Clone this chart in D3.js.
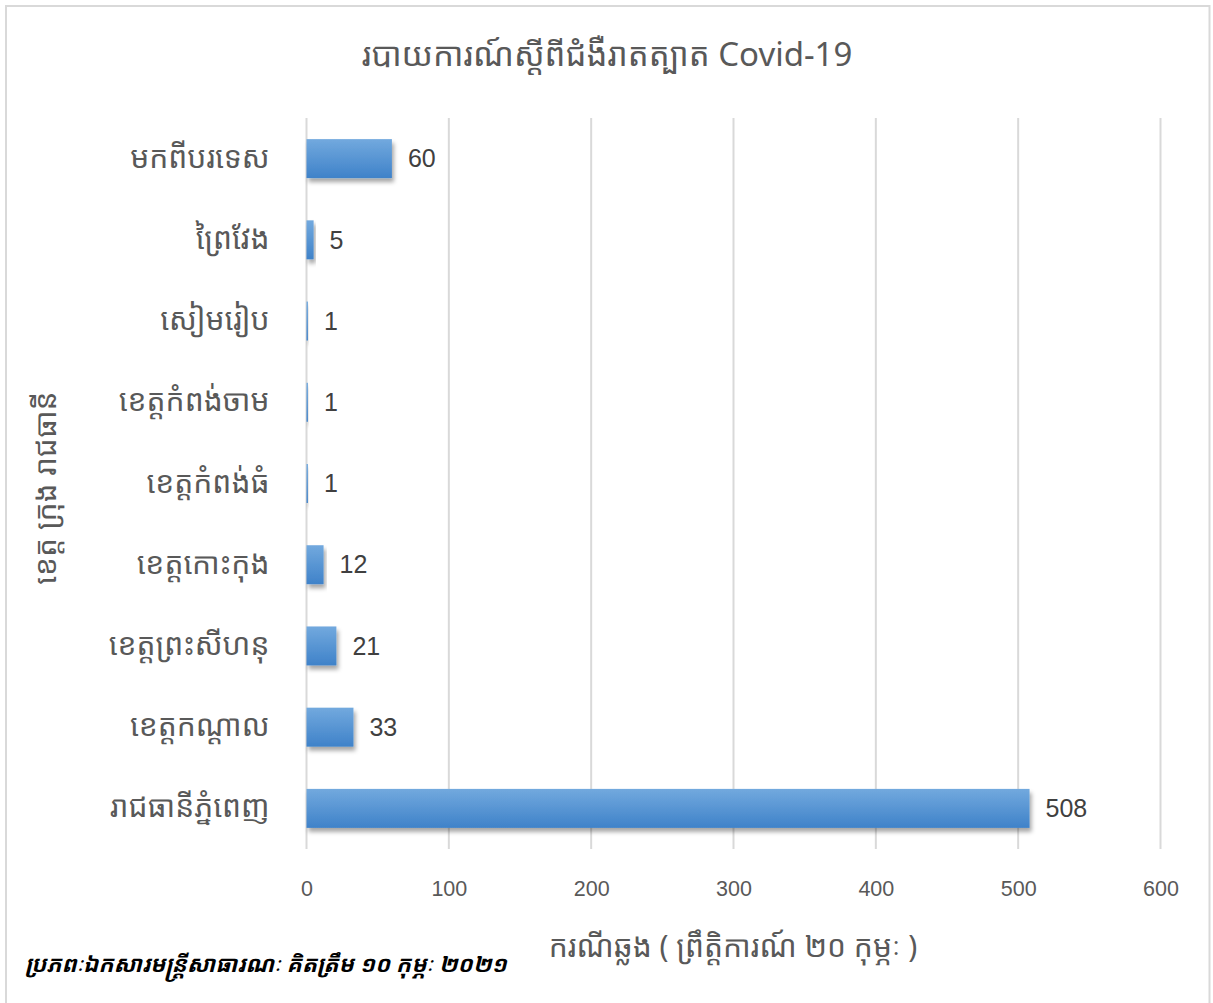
<!DOCTYPE html>
<html>
<head>
<meta charset="utf-8">
<script src="https://cdn.jsdelivr.net/npm/d3@7"></script>
<style>
  html, body { margin: 0; padding: 0; background: #fff; }
  svg { display: block; }
  text { font-family: "Khmer OS", "Noto Sans Khmer", "Noto Sans", "DejaVu Sans", sans-serif; }
</style>
</head>
<body>
<svg id="chart" width="1213" height="1003"></svg>
<script>
const categories = ["មកពីបរទេស", "ព្រៃវែង", "សៀមរៀប", "ខេត្តកំពង់ចាម", "ខេត្តកំពង់ធំ", "ខេត្តកោះកុង", "ខេត្តព្រះសីហនុ", "ខេត្តកណ្ដាល", "រាជធានីភ្នំពេញ"];
const values = [60, 5, 1, 1, 1, 12, 21, 33, 508];
const xTicks = [0, 100, 200, 300, 400, 500, 600];
const titleText = "របាយការណ៍ស្ដីពីជំងឺរាតត្បាត  Covid-19";
const yTitle = "ខេត្ត ក្រុង រាជធានី";
const xTitle = "ករណីឆ្លង ( ព្រឹត្តិការណ៍ ២០ កុម្ភៈ )";
const sourceNote = "ប្រភពៈឯកសារមន្ត្រីសាធារណៈ គិតត្រឹម ១០ កុម្ភៈ ២០២១";

const svg = d3.select("#chart");
const W = 1213, H = 1003;
const plot = {left: 306.5, right: 1160.5, top: 118, bottom: 849};

// chart border
svg.append("rect").attr("x", 6).attr("y", 6).attr("width", W - 9.5).attr("height", H - 2)
  .attr("fill", "#fff").attr("stroke", "#d9d9d9").attr("stroke-width", 2);

const defs = svg.append("defs");
const grad = defs.append("linearGradient").attr("id", "barGrad").attr("x1", 0).attr("y1", 0).attr("x2", 0).attr("y2", 1);
grad.append("stop").attr("offset", "0%").attr("stop-color", "#72a9de");
grad.append("stop").attr("offset", "100%").attr("stop-color", "#3f82c9");
const filt = defs.append("filter").attr("id", "shadow").attr("x", "-20%").attr("y", "-30%").attr("width", "140%").attr("height", "180%");
filt.append("feDropShadow").attr("dx", 2).attr("dy", 4).attr("stdDeviation", 2)
  .attr("flood-color", "#000").attr("flood-opacity", 0.35);

const x = d3.scaleLinear().domain([0, 600]).range([plot.left, plot.right]);
const y = d3.scaleBand().domain(categories).range([plot.top, plot.bottom]).paddingInner(0.52).paddingOuter(0.26);

// gridlines
svg.append("g").selectAll("line").data(xTicks).join("line")
  .attr("x1", d => x(d)).attr("x2", d => x(d))
  .attr("y1", plot.top).attr("y2", plot.bottom)
  .attr("stroke", "#d9d9d9").attr("stroke-width", 2);

// x tick labels via axis
const xAxis = d3.axisBottom(x).tickValues(xTicks).tickSize(0).tickPadding(0);
const gx = svg.append("g").attr("transform", `translate(0, ${plot.bottom + 32})`).call(xAxis);
gx.select(".domain").remove();
gx.selectAll("text").attr("font-size", 21.5).attr("fill", "#595959")
  .style("font-family", "'Liberation Sans', Arial, sans-serif");

// y category labels via axis
const yAxis = d3.axisLeft(y).tickSize(0).tickPadding(37);
const gy = svg.append("g").attr("transform", `translate(${plot.left}, 0)`).call(yAxis);
gy.select(".domain").remove();
gy.selectAll("text").attr("font-size", 30).attr("fill", "#595959").attr("dy", "0.3em");

// bars
svg.append("g").selectAll("rect").data(values).join("rect")
  .attr("x", x(0))
  .attr("y", (d, i) => y(categories[i]))
  .attr("width", d => x(d) - x(0))
  .attr("height", y.bandwidth())
  .attr("fill", "url(#barGrad)")
  .attr("filter", "url(#shadow)");

// value labels
svg.append("g").selectAll("text").data(values).join("text")
  .attr("x", d => x(d) + 16)
  .attr("y", (d, i) => y(categories[i]) + y.bandwidth() / 2)
  .attr("dy", "0.35em")
  .attr("font-size", 25).attr("fill", "#404040")
  .style("font-family", "'Liberation Sans', Arial, sans-serif")
  .text(d => d);

// title
svg.append("text").attr("x", 607).attr("y", 66).attr("text-anchor", "middle")
  .attr("font-size", 33).attr("fill", "#595959").text(titleText);

// y title
svg.append("text").attr("transform", "translate(56, 488) rotate(-90)")
  .attr("text-anchor", "middle").attr("font-size", 30).attr("fill", "#595959").text(yTitle);

// x title
svg.append("text").attr("x", 733).attr("y", 957).attr("text-anchor", "middle")
  .attr("font-size", 30).attr("fill", "#595959").text(xTitle);

// source note
svg.append("text").attr("x", 25).attr("y", 972)
  .attr("font-size", 22.5).attr("font-weight", "bold").attr("font-style", "italic")
  .attr("fill", "#000").text(sourceNote);
</script>
</body>
</html>
